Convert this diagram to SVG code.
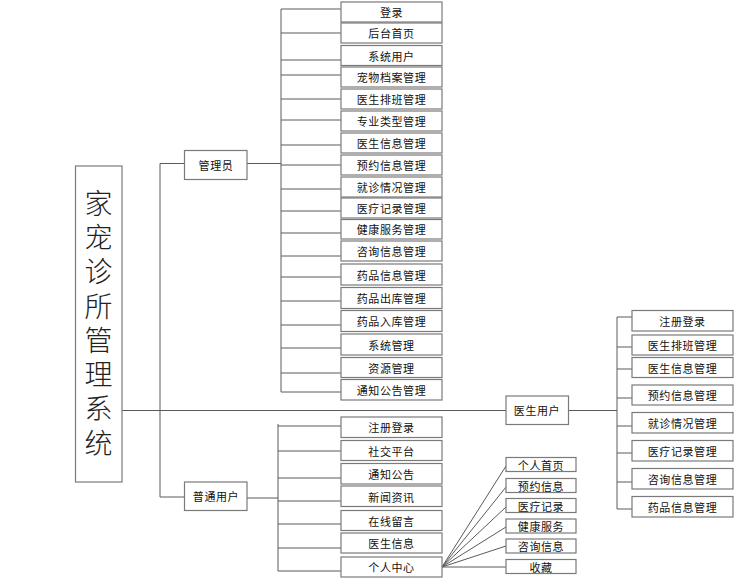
<svg xmlns="http://www.w3.org/2000/svg" width="740" height="588" viewBox="0 0 740 588">
<style>
.b{fill:#fff;stroke:#7a7a7a;stroke-width:1.2}
.t{font-family:"Noto Sans CJK SC","Liberation Sans",sans-serif;font-size:11px;fill:#111;text-anchor:middle;dominant-baseline:central;letter-spacing:0.6px}
.ln{fill:none;stroke:#5a5a5a;stroke-width:1}
.title{font-family:"Noto Sans CJK SC",serif;font-size:28px;font-weight:300;fill:#222;writing-mode:vertical-rl;letter-spacing:6.3px}
</style>
<rect width="740" height="588" fill="#fff"/>
<g id="connectors" class="ln">
<path d="M122 410.5H506M568 410.5H617"/>
<path d="M160 163.5V497M160 163.5H184M160 497H184"/>
<path d="M247 163.5H281M281 9V392"/>
<path d="M281 9H341M281 33H341M281 60H341M281 75H341M281 99H341M281 120H341M281 145H341M281 165H341M281 189H341M281 211H341M281 233H341M281 256H341M281 277H341M281 301H341M281 325H341M281 348H341M281 373H341M281 392H341"/>
<path d="M247 498H278M278 424V571"/>
<path d="M278 426H341M278 451H341M278 478H341M278 501H341M278 524H341M278 548H341M278 571H341"/>
<path d="M617 317V509M617 317H632M617 347H632M617 369H632M617 398H632M617 426H632M617 453H632M617 482H632M617 509H632"/>
<path d="M442 567L506 466M442 567L506 487M442 567L506 507M442 567L506 527M442 567L506 546M442 567L506 567"/>
</g>
<g id="root"><rect class="b" x="75.5" y="166" width="46.5" height="316"/>
<text class="title" x="98.5" y="189">家宠诊所管理系统</text></g>
<g id="admin"><rect class="b" x="184.5" y="150.5" width="62.5" height="29"/><text class="t" x="216" y="165">管理员</text></g>
<g id="user"><rect class="b" x="184.5" y="482" width="62.5" height="28.5"/><text class="t" x="216" y="496">普通用户</text></g>
<g id="doctor"><rect class="b" x="506" y="396" width="62.5" height="28.5"/><text class="t" x="537" y="410">医生用户</text></g>
<g id="a1"><rect class="b" x="341" y="2" width="101" height="20"/><text class="t" x="391.5" y="12">登录</text></g>
<g id="a2"><rect class="b" x="341" y="23" width="101" height="20"/><text class="t" x="391.5" y="33">后台首页</text></g>
<g id="a3"><rect class="b" x="341" y="45.5" width="101" height="20"/><text class="t" x="391.5" y="55.5">系统用户</text></g>
<g id="a4"><rect class="b" x="341" y="67" width="101" height="20"/><text class="t" x="391.5" y="77">宠物档案管理</text></g>
<g id="a5"><rect class="b" x="341" y="89" width="101" height="20"/><text class="t" x="391.5" y="99">医生排班管理</text></g>
<g id="a6"><rect class="b" x="341" y="111" width="101" height="20"/><text class="t" x="391.5" y="121">专业类型管理</text></g>
<g id="a7"><rect class="b" x="341" y="133" width="101" height="20"/><text class="t" x="391.5" y="143">医生信息管理</text></g>
<g id="a8"><rect class="b" x="341" y="155" width="101" height="20"/><text class="t" x="391.5" y="165">预约信息管理</text></g>
<g id="a9"><rect class="b" x="341" y="177" width="101" height="20"/><text class="t" x="391.5" y="187">就诊情况管理</text></g>
<g id="a10"><rect class="b" x="341" y="198" width="101" height="20"/><text class="t" x="391.5" y="208">医疗记录管理</text></g>
<g id="a11"><rect class="b" x="341" y="219.5" width="101" height="19.5"/><text class="t" x="391.5" y="229">健康服务管理</text></g>
<g id="a12"><rect class="b" x="341" y="241" width="101" height="20"/><text class="t" x="391.5" y="251">咨询信息管理</text></g>
<g id="a13"><rect class="b" x="341" y="264" width="101" height="21"/><text class="t" x="391.5" y="274.5">药品信息管理</text></g>
<g id="a14"><rect class="b" x="341" y="287.5" width="101" height="21"/><text class="t" x="391.5" y="298">药品出库管理</text></g>
<g id="a15"><rect class="b" x="341" y="310.5" width="101" height="21"/><text class="t" x="391.5" y="321">药品入库管理</text></g>
<g id="a16"><rect class="b" x="341" y="334" width="101" height="21"/><text class="t" x="391.5" y="344.5">系统管理</text></g>
<g id="a17"><rect class="b" x="341" y="357.5" width="101" height="20"/><text class="t" x="391.5" y="367.5">资源管理</text></g>
<g id="a18"><rect class="b" x="341" y="379.5" width="101" height="20.5"/><text class="t" x="391.5" y="390">通知公告管理</text></g>
<g id="u1"><rect class="b" x="341" y="417" width="101" height="20.5"/><text class="t" x="391.5" y="427">注册登录</text></g>
<g id="u2"><rect class="b" x="341" y="440.5" width="101" height="20"/><text class="t" x="391.5" y="450.5">社交平台</text></g>
<g id="u3"><rect class="b" x="341" y="463.5" width="101" height="20.5"/><text class="t" x="391.5" y="473.5">通知公告</text></g>
<g id="u4"><rect class="b" x="341" y="486" width="101" height="20.5"/><text class="t" x="391.5" y="496.5">新闻资讯</text></g>
<g id="u5"><rect class="b" x="341" y="510.5" width="101" height="20"/><text class="t" x="391.5" y="520.5">在线留言</text></g>
<g id="u6"><rect class="b" x="341" y="533" width="101" height="20"/><text class="t" x="391.5" y="543">医生信息</text></g>
<g id="u7"><rect class="b" x="341" y="557" width="101" height="20"/><text class="t" x="391.5" y="567">个人中心</text></g>
<g id="p1"><rect class="b" x="506" y="457.5" width="70" height="14"/><text class="t" x="541" y="464.5">个人首页</text></g>
<g id="p2"><rect class="b" x="506" y="478.5" width="70" height="14"/><text class="t" x="541" y="485.5">预约信息</text></g>
<g id="p3"><rect class="b" x="506" y="498.5" width="70" height="14"/><text class="t" x="541" y="505.5">医疗记录</text></g>
<g id="p4"><rect class="b" x="506" y="519" width="70" height="14"/><text class="t" x="541" y="526">健康服务</text></g>
<g id="p5"><rect class="b" x="506" y="539" width="70" height="14"/><text class="t" x="541" y="546">咨询信息</text></g>
<g id="p6"><rect class="b" x="506" y="559.5" width="70" height="14"/><text class="t" x="541" y="566.5">收藏</text></g>
<g id="d1"><rect class="b" x="632" y="310.5" width="101" height="20.5"/><text class="t" x="682.5" y="320.5">注册登录</text></g>
<g id="d2"><rect class="b" x="632" y="335" width="101" height="20"/><text class="t" x="682.5" y="345">医生排班管理</text></g>
<g id="d3"><rect class="b" x="632" y="357.5" width="101" height="20"/><text class="t" x="682.5" y="367.5">医生信息管理</text></g>
<g id="d4"><rect class="b" x="632" y="385" width="101" height="20"/><text class="t" x="682.5" y="395">预约信息管理</text></g>
<g id="d5"><rect class="b" x="632" y="412.5" width="101" height="20.5"/><text class="t" x="682.5" y="422.5">就诊情况管理</text></g>
<g id="d6"><rect class="b" x="632" y="440.5" width="101" height="20.5"/><text class="t" x="682.5" y="450.5">医疗记录管理</text></g>
<g id="d7"><rect class="b" x="632" y="468.5" width="101" height="20.5"/><text class="t" x="682.5" y="478.5">咨询信息管理</text></g>
<g id="d8"><rect class="b" x="632" y="496.5" width="101" height="20.5"/><text class="t" x="682.5" y="506.5">药品信息管理</text></g>
</svg>
